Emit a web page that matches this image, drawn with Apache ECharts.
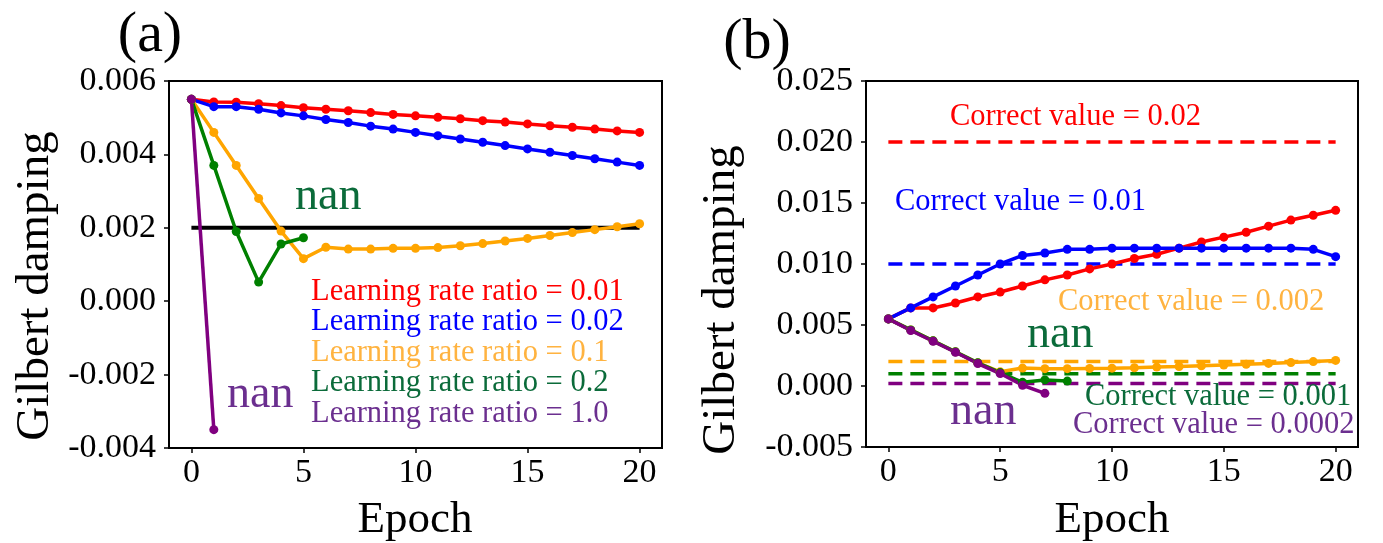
<!DOCTYPE html>
<html><head><meta charset="utf-8">
<script src="https://cdn.jsdelivr.net/npm/echarts@6/dist/echarts.min.js"></script>
<style>html,body{margin:0;padding:0;background:#fff}#c{width:1383px;height:543px}</style>
</head><body><div id="c"></div>
<script>
const epochs = [0,1,2,3,4,5,6,7,8,9,10,11,12,13,14,15,16,17,18,19,20];
const xTicks = [0,5,10,15,20];
// Panel (a)
const aLr001 = [0.0055,0.00543,0.00542,0.00538,0.00533,0.00527,0.00523,0.00519,0.00514,0.00509,0.00505,0.00501,0.00497,0.00492,0.00488,0.00483,0.00478,0.00474,0.00469,0.00464,0.0046];
const aLr002 = [0.0055,0.0053,0.0053,0.00523,0.00513,0.00505,0.00495,0.00487,0.00477,0.00469,0.0046,0.00451,0.00442,0.00433,0.00424,0.00415,0.00406,0.00397,0.00388,0.00379,0.0037];
const aLr01  = [0.0055,0.0046,0.0037,0.0028,0.00191,0.00116,0.00147,0.00142,0.00142,0.00144,0.00144,0.00146,0.00151,0.00157,0.00164,0.00171,0.00179,0.00187,0.00195,0.00203,0.00211];
const aLr02  = [0.0055,0.0037,0.0019,0.00052,0.00156,0.00173];
const aLr10  = [0.0055,-0.0035];
const aTarget = 0.002;
const aLegend = ['Learning rate ratio = 0.01','Learning rate ratio = 0.02','Learning rate ratio = 0.1','Learning rate ratio = 0.2','Learning rate ratio = 1.0'];
// Panel (b)
const bRed    = [0.0055,0.0064,0.0064,0.0068,0.0073,0.0077,0.0082,0.0087,0.0091,0.0096,0.0100,0.01045,0.0108,0.0113,0.0118,0.0122,0.0126,0.0131,0.0136,0.0140,0.0144];
const bBlue   = [0.0055,0.0064,0.0073,0.0082,0.0091,0.0100,0.0107,0.0109,0.0112,0.0112,0.0113,0.0113,0.0113,0.0113,0.0113,0.0113,0.0113,0.0113,0.0113,0.0112,0.0106];
const bOrange = [0.0055,0.0046,0.0037,0.0028,0.0019,0.00116,0.00147,0.00142,0.00142,0.00144,0.00146,0.0015,0.00155,0.0016,0.00166,0.00172,0.00178,0.00185,0.00192,0.002,0.0021];
const bGreen  = [0.0055,0.0046,0.0037,0.0028,0.0019,0.0011,0.0003,0.0005,0.0004];
const bPurple = [0.0055,0.00455,0.00367,0.00277,0.00184,0.00102,0.00006,-0.0006];
const bCorrect = [0.02,0.01,0.002,0.001,0.0002];
const bCorrectLabels = ['Correct value = 0.02','Correct value = 0.01','Correct value = 0.002','Correct value = 0.001','Correct value = 0.0002'];

const colors = ['#ff0000','#0000ff','#ffa500','#008000','#800080'];
const textColors = ['#ff0000','#0000ff','#ffb340','#0b6b3a','#6b2f8f'];
const FONT = '"Liberation Serif","Times New Roman",serif';

function pairs(arr){ return arr.map((v,i)=>[epochs[i],v]); }
function lineSeries(arr, color, xi){
  return {type:'line', xAxisIndex:xi, yAxisIndex:xi, data:pairs(arr), symbol:'circle', symbolSize:9,
    showSymbol:true, lineStyle:{color:color,width:3.5}, itemStyle:{color:color}, animation:false, z:3};
}
function hLine(val, color, xi, dashed, w){
  return {type:'line', xAxisIndex:xi, yAxisIndex:xi, data:[[epochs[0],val],[epochs[20],val]], symbol:'none',
    lineStyle:{color:color,width:w,type:dashed?[14,8]:'solid'}, animation:false, z:2};
}
function xAxis(gi){
  return {type:'value', gridIndex:gi, min:-1, max:21,
    axisLine:{show:true,onZero:false,lineStyle:{color:'#000',width:2}},
    axisTick:{show:true,inside:false,length:5,lineStyle:{color:'#000',width:1.5},customValues:xTicks},
    axisLabel:{color:'#000',fontFamily:FONT,fontSize:34,margin:8,customValues:xTicks},
    splitLine:{show:false}};
}
function yAxis(gi,min,max,intv){
  return {type:'value', gridIndex:gi, min:min, max:max, interval:intv,
    axisLine:{show:true,onZero:false,lineStyle:{color:'#000',width:2}},
    axisTick:{show:true,inside:false,length:5,lineStyle:{color:'#000',width:1.5}},
    axisLabel:{color:'#000',fontFamily:FONT,fontSize:34,margin:13,formatter:v=>v.toFixed(3)},
    splitLine:{show:false}};
}
function txt(s,x,y,color,size,align,rot){
  return {type:'text', x:x, y:y, rotation:rot||0, z:10,
    style:{text:s, fill:color, font:size+'px '+FONT, align:align||'left', verticalAlign:'middle'}};
}

const series = [
  hLine(aTarget,'#000',0,false,4),
  lineSeries(aLr001,colors[0],0), lineSeries(aLr002,colors[1],0), lineSeries(aLr01,colors[2],0),
  lineSeries(aLr02,colors[3],0), lineSeries(aLr10,colors[4],0)
];
bCorrect.forEach((v,i)=>series.push(hLine(v,colors[i],1,true,3.5)));
[bRed,bBlue,bOrange,bGreen,bPurple].forEach((arr,i)=>series.push(lineSeries(arr,colors[i],1)));

const graphics = [
  txt('(a)',150,36,'#000',58,'center'),
  txt('(b)',757,43,'#000',58,'center'),
  txt('Epoch',415,520,'#000',45,'center'),
  txt('Epoch',1112,520,'#000',45,'center'),
  txt('Gilbert damping',36,286,'#000',47,'center',Math.PI/2),
  txt('Gilbert damping',722,300,'#000',47,'center',Math.PI/2),
  txt('nan',295,197,textColors[3],46,'left'),
  txt('nan',227,395,textColors[4],46,'left'),
  txt('nan',1027,335,textColors[3],46,'left'),
  txt('nan',950,412,textColors[4],46,'left')
];
const legY = [292,322,353,383,414];
aLegend.forEach((s,i)=>graphics.push(txt(s,311,legY[i],textColors[i],30.5,'left')));
const cvX = [950,895,1058,1085,1073];
const cvY = [117,202,302,397,425];
bCorrectLabels.forEach((s,i)=>graphics.push(txt(s,cvX[i],cvY[i],textColors[i],30.5,'left')));

const chart = echarts.init(document.getElementById('c'),null,{renderer:'canvas'});
chart.setOption({
  backgroundColor:'#fff',
  animation:false,
  grid:[
    {left:169,top:81,width:493,height:367,show:true,borderColor:'#000',borderWidth:2,containLabel:false},
    {left:866,top:81,width:492,height:366,show:true,borderColor:'#000',borderWidth:2,containLabel:false}
  ],
  xAxis:[xAxis(0),xAxis(1)],
  yAxis:[yAxis(0,-0.004,0.006,0.002),yAxis(1,-0.005,0.025,0.005)],
  series:series,
  graphic:graphics
});
</script></body></html>
